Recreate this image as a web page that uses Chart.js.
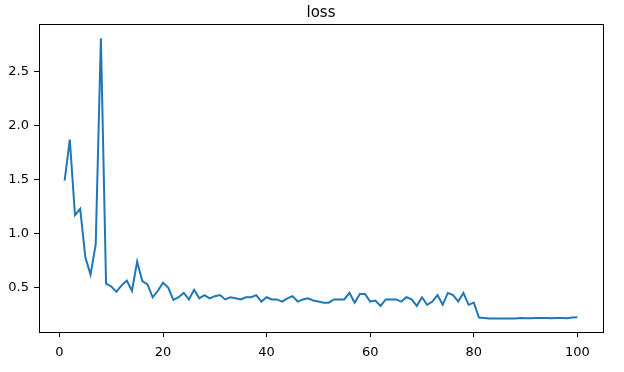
<!DOCTYPE html>
<html>
<head>
<meta charset="utf-8">
<script src="https://cdn.jsdelivr.net/npm/chart.js@4/dist/chart.umd.min.js"></script>
<style>
  html, body { margin: 0; padding: 0; background: #fff; }
  #wrap { width: 624px; height: 372px; position: relative; }
</style>
</head>
<body>
<div id="wrap"><canvas id="c" width="624" height="372"></canvas></div>
<script>
const titleText = "loss";
const epochs = [1,2,3,4,5,6,7,8,9,10,11,12,13,14,15,16,17,18,19,20,
  21,22,23,24,25,26,27,28,29,30,31,32,33,34,35,36,37,38,39,40,
  41,42,43,44,45,46,47,48,49,50,51,52,53,54,55,56,57,58,59,60,
  61,62,63,64,65,66,67,68,69,70,71,72,73,74,75,76,77,78,79,80,
  81,82,83,84,85,86,87,88,89,90,91,92,93,94,95,96,97,98,99,100];
const lossValues = [1.49,1.87,1.17,1.23,0.78,0.62,0.90,2.81,0.535,0.51,
  0.46,0.52,0.565,0.47,0.74,0.56,0.53,0.41,0.47,0.545,
  0.50,0.385,0.41,0.45,0.39,0.48,0.40,0.43,0.40,0.42,
  0.43,0.39,0.41,0.40,0.39,0.41,0.41,0.43,0.37,0.41,
  0.39,0.39,0.37,0.40,0.42,0.37,0.39,0.40,0.38,0.37,
  0.36,0.36,0.39,0.39,0.39,0.45,0.36,0.44,0.44,0.37,
  0.38,0.33,0.39,0.39,0.39,0.37,0.41,0.39,0.33,0.41,
  0.34,0.37,0.43,0.34,0.45,0.43,0.37,0.45,0.34,0.36,
  0.222,0.217,0.214,0.212,0.212,0.213,0.214,0.214,0.218,0.216,
  0.216,0.217,0.217,0.218,0.216,0.217,0.217,0.216,0.222,0.224];
const xTicks = [0,20,40,60,80,100];
const yTicks = [0.5,1.0,1.5,2.0,2.5];

const tickFont = { family: "DejaVu Sans", size: 13 };

const framePlugin = {
  id: "frame",
  afterDraw(chart) {
    const { ctx, chartArea: a } = chart;
    ctx.save();
    ctx.strokeStyle = "#000";
    ctx.lineWidth = 1;
    ctx.strokeRect(Math.round(a.left) + 0.5, Math.round(a.top) + 0.5,
                   Math.round(a.right - a.left), Math.round(a.bottom - a.top));
    ctx.fillStyle = "#000";
    ctx.font = "15px 'DejaVu Sans'";
    ctx.textAlign = "center";
    ctx.textBaseline = "alphabetic";
    ctx.fillText(titleText, (a.left + a.right) / 2, 17);
    ctx.restore();
  }
};

new Chart(document.getElementById("c"), {
  type: "line",
  data: {
    datasets: [{
      data: epochs.map((e, i) => ({ x: e, y: lossValues[i] })),
      borderColor: "#1f77b4",
      borderWidth: 2,
      pointRadius: 0,
      tension: 0,
      fill: false
    }]
  },
  options: {
    responsive: false,
    animation: false,
    devicePixelRatio: 1,
    layout: { padding: { top: 24, right: 21, left: 0, bottom: 0 } },
    plugins: { legend: { display: false }, title: { display: false }, tooltip: { enabled: false } },
    scales: {
      x: {
        type: "linear",
        min: -3.95,
        max: 104.95,
        afterBuildTicks: s => { s.ticks = xTicks.map(v => ({ value: v })); },
        afterFit: s => { s.height = 40; },
        grid: { drawOnChartArea: false, drawTicks: true, tickLength: 5, color: "#000", lineWidth: 1 },
        border: { display: false },
        ticks: { color: "#000", font: tickFont, padding: 8, maxRotation: 0, callback: v => String(v) }
      },
      y: {
        type: "linear",
        min: 0.088,
        max: 2.942,
        afterBuildTicks: s => { s.ticks = yTicks.map(v => ({ value: v })); },
        afterFit: s => { s.width = 39; },
        grid: { drawOnChartArea: false, drawTicks: true, tickLength: 5, color: "#000", lineWidth: 1 },
        border: { display: false },
        ticks: { color: "#000", font: tickFont, padding: 5, callback: v => Number(v).toFixed(1) }
      }
    }
  },
  plugins: [framePlugin]
});
</script>
</body>
</html>
